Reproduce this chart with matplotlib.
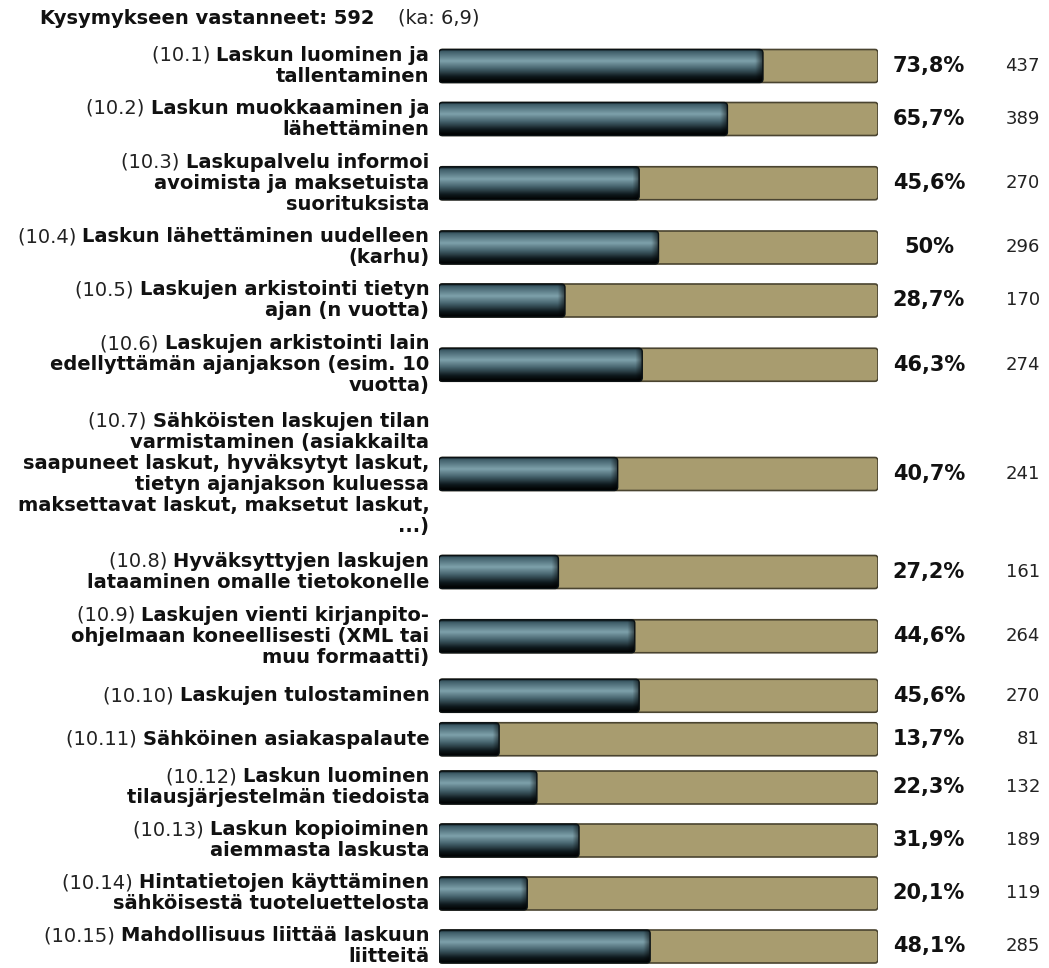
import numpy as np
import matplotlib.pyplot as plt
from matplotlib.patches import FancyBboxPatch
from matplotlib.colors import to_rgb

# data
respondents = 592
mean_text = '(ka: 6,9)'
codes = ['(10.1)', '(10.2)', '(10.3)', '(10.4)', '(10.5)', '(10.6)', '(10.7)', '(10.8)',
         '(10.9)', '(10.10)', '(10.11)', '(10.12)', '(10.13)', '(10.14)', '(10.15)']
labels = [
    'Laskun luominen ja\ntallentaminen',
    'Laskun muokkaaminen ja\nlähettäminen',
    'Laskupalvelu informoi\navoimista ja maksetuista\nsuorituksista',
    'Laskun lähettäminen uudelleen\n(karhu)',
    'Laskujen arkistointi tietyn\najan (n vuotta)',
    'Laskujen arkistointi lain\nedellyttämän ajanjakson (esim. 10\nvuotta)',
    'Sähköisten laskujen tilan\nvarmistaminen (asiakkailta\nsaapuneet laskut, hyväksytyt laskut,\n'
    'tietyn ajanjakson kuluessa\nmaksettavat laskut, maksetut laskut,\n...)',
    'Hyväksyttyjen laskujen\nlataaminen omalle tietokonelle',
    'Laskujen vienti kirjanpito-\nohjelmaan koneellisesti (XML tai\nmuu formaatti)',
    'Laskujen tulostaminen',
    'Sähköinen asiakaspalaute',
    'Laskun luominen\ntilausjärjestelmän tiedoista',
    'Laskun kopioiminen\naiemmasta laskusta',
    'Hintatietojen käyttäminen\nsähköisestä tuoteluettelosta',
    'Mahdollisuus liittää laskuun\nliitteitä',
]
percents = [73.8, 65.7, 45.6, 50.0, 28.7, 46.3, 40.7, 27.2, 44.6, 45.6, 13.7, 22.3, 31.9, 20.1, 48.1]
pct_labels = ['73,8%', '65,7%', '45,6%', '50%', '28,7%', '46,3%', '40,7%', '27,2%',
              '44,6%', '45,6%', '13,7%', '22,3%', '31,9%', '20,1%', '48,1%']
counts = [437, 389, 270, 296, 170, 274, 241, 161, 264, 270, 81, 132, 189, 119, 285]

W, H = 1049, 968
fig = plt.figure(figsize=(W / 100, H / 100), dpi=100)
fig.patch.set_facecolor('white')
ax = fig.add_axes([439 / W, 0, (878 - 439) / W, 1])
ax.set_xlim(0, 100)
ax.axis('off')

line_px = 21
bar_h = 33
# row layout from number of label lines
nlines = [lab.count('\n') + 1 for lab in labels]
row_h = [max(22.5 * n + 8, 43.5) for n in nlines]
centers = [0.0]
for i in range(1, len(labels)):
    centers.append(centers[-1] + (row_h[i - 1] + row_h[i]) / 2)
ax.set_ylim(H - 66, -66)

xunit = (878 - 439) / 100  # px per x unit

# gradient for the dark part (top -> bottom)
stops = [0.0, 0.06, 0.36, 0.6, 0.84, 1.0]
cols = ['#101c21', '#3d5b66', '#7ea1ab', '#44616b', '#0e181c', '#000000']
rows = np.linspace(0, 1, 60)
grad = np.stack([np.interp(rows, stops, [to_rgb(c)[k] for c in cols]) for k in range(3)], axis=-1)

trans_lab = ax.get_yaxis_transform()
for i, yc in enumerate(centers):
    pct = percents[i]
    # background (tan) bar
    ax.add_patch(FancyBboxPatch((0, yc - bar_h / 2), 100, bar_h,
                                boxstyle='round,pad=0,rounding_size=0.7', mutation_aspect=xunit,
                                facecolor='#a89c6f', edgecolor='#4a4430', linewidth=1.2, zorder=1))
    # dark cylinder bar
    clip = FancyBboxPatch((0, yc - bar_h / 2), pct, bar_h,
                          boxstyle='round,pad=0,rounding_size=0.8', mutation_aspect=xunit,
                          facecolor='none', edgecolor='none')
    ax.add_patch(clip)
    xs = np.linspace(0, pct, 200)
    shade = 0.45 + 0.55 * np.clip((pct - xs) / 1.6, 0, 1)
    img = grad[:, None, :] * shade[None, :, None]
    im = ax.imshow(img, extent=(0, pct, yc + bar_h / 2, yc - bar_h / 2), origin='upper',
                   aspect='auto', interpolation='bilinear', zorder=2)
    im.set_clip_path(clip)
    ax.add_patch(FancyBboxPatch((0, yc - bar_h / 2), pct, bar_h,
                                boxstyle='round,pad=0,rounding_size=0.8', mutation_aspect=xunit,
                                facecolor='none', edgecolor='#0a1114', linewidth=1.0, zorder=3))

    # label lines, right aligned; code prefix in normal weight
    lines = labels[i].split('\n')
    top = yc - (len(lines) - 1) * line_px / 2
    for k, line in enumerate(lines):
        t = ax.text(-0.022, top + k * line_px, line, transform=trans_lab, ha='right', va='center',
                    fontsize=14, fontweight='bold', color='#111111')
        if k == 0:
            ax.annotate(codes[i] + ' ', xy=(0, 0.5), xycoords=t, ha='right', va='center',
                        fontsize=14, color='#222222')

    ax.text(1.116, yc, pct_labels[i], transform=trans_lab, ha='center', va='center',
            fontsize=15, fontweight='bold', color='#111111')
    ax.text(1.369, yc, str(counts[i]), transform=trans_lab, ha='right', va='center',
            fontsize=13, color='#222222')

t = fig.text(40 / W, 1 - 18 / H, f'Kysymykseen vastanneet: {respondents}', ha='left', va='center',
             fontsize=14, fontweight='bold', color='#111111')
ax.annotate(mean_text, xy=(1, 0.5), xycoords=t, xytext=(17, 0), textcoords='offset points',
            ha='left', va='center', fontsize=14, color='#222222')

fig.savefig('out.png', dpi=100, facecolor='white')
